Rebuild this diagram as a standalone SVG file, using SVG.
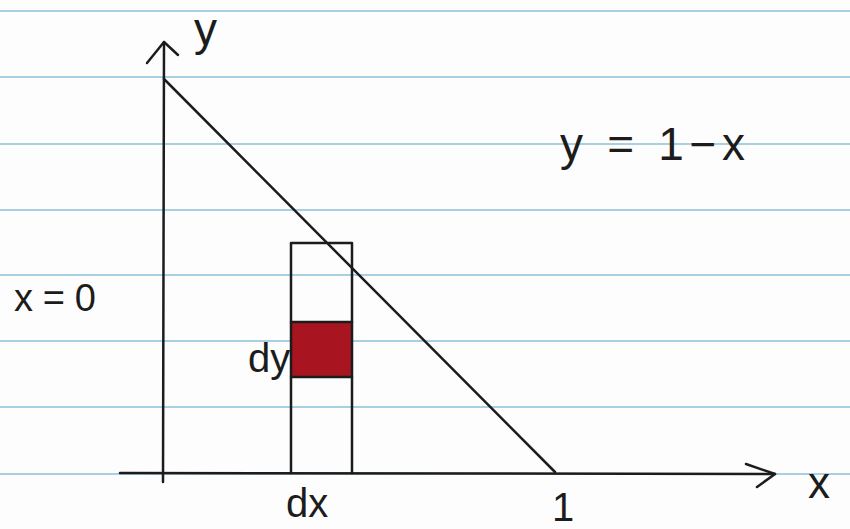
<svg xmlns="http://www.w3.org/2000/svg" width="850" height="529" viewBox="0 0 850 529">
<style>
.rule{stroke:#a9cfe3;stroke-width:2}
.ink{stroke:#1c1c1c;stroke-width:2.5;fill:none;stroke-linecap:round;stroke-linejoin:round}
.lbl{font-family:"Liberation Sans",Arial,sans-serif;fill:#1c1c1c;font-weight:normal}
</style>
<rect width="850" height="529" fill="#fdfdfd"/>
<g id="paper">
<line class="rule" x1="0" y1="11" x2="850" y2="11"/>
<line class="rule" x1="0" y1="77" x2="850" y2="77"/>
<line class="rule" x1="0" y1="144" x2="850" y2="144"/>
<line class="rule" x1="0" y1="210" x2="850" y2="210"/>
<line class="rule" x1="0" y1="275" x2="850" y2="275"/>
<line class="rule" x1="0" y1="341" x2="850" y2="341"/>
<line class="rule" x1="0" y1="407" x2="850" y2="407"/>
<line class="rule" x1="0" y1="474" x2="850" y2="474"/>
</g>
<g id="strip">
<rect x="291" y="322" width="61" height="55" fill="#a8141f"/>
<path class="ink" d="M291 473 L291 243 L352 243 L352 473"/>
<line class="ink" x1="291" y1="322" x2="352" y2="322"/>
<line class="ink" x1="291" y1="377" x2="352" y2="377"/>
</g>
<g id="connectors">
<line class="ink" x1="163" y1="482" x2="164" y2="42"/>
<path class="ink" d="M147 63 L164 42 L178 55"/>
<line class="ink" x1="120" y1="473" x2="775" y2="474"/>
<path class="ink" d="M746 464 L775 474 L757 487"/>
<line class="ink" x1="164" y1="79" x2="555" y2="472"/>
</g>
<g id="labels">
<text class="lbl" x="194" y="45" font-size="46">y</text>
<text class="lbl" x="560" y="160" font-size="46" textLength="185" lengthAdjust="spacing">y = 1−x</text>
<text class="lbl" x="14" y="311" font-size="38" textLength="82" lengthAdjust="spacing">x=0</text>
<text class="lbl" x="248" y="372" font-size="40">dy</text>
<text class="lbl" x="286" y="517" font-size="40">dx</text>
<text class="lbl" x="552" y="521" font-size="40">1</text>
<text class="lbl" x="808" y="498" font-size="44">x</text>
</g>
</svg>
